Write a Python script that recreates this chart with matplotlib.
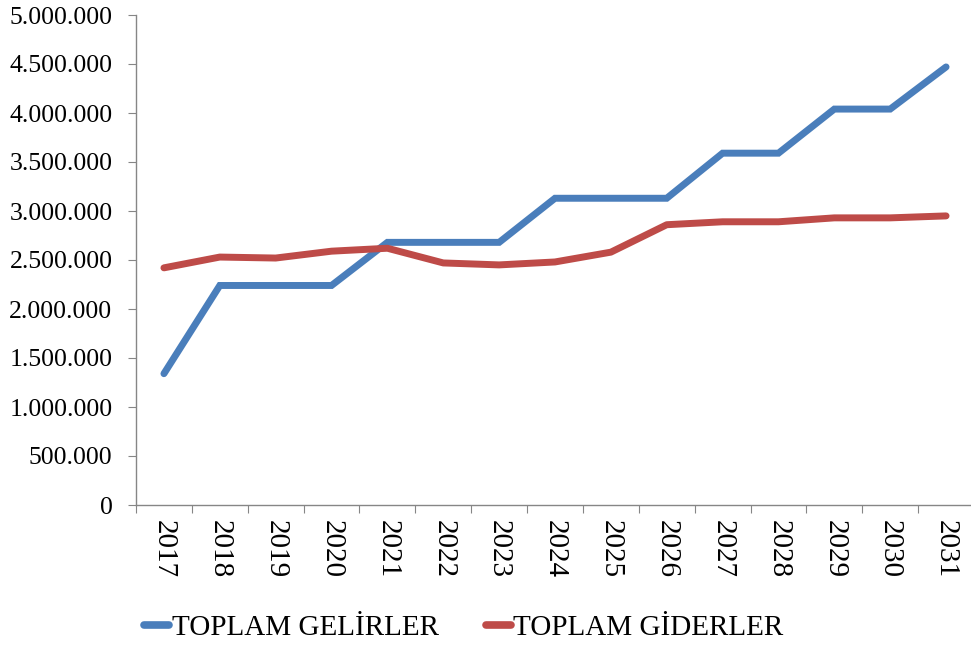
import matplotlib.pyplot as plt
import numpy as np

# Yıllar ve toplam gelir / gider değerleri
years = ['2017', '2018', '2019', '2020', '2021', '2022', '2023', '2024',
         '2025', '2026', '2027', '2028', '2029', '2030', '2031']
gelirler = [1340000, 2240000, 2240000, 2240000, 2680000, 2680000, 2680000, 3130000,
            3130000, 3130000, 3590000, 3590000, 4040000, 4040000, 4470000]
giderler = [2420000, 2530000, 2520000, 2590000, 2620000, 2470000, 2450000, 2480000,
            2580000, 2860000, 2890000, 2890000, 2930000, 2930000, 2950000]

plt.rcParams['font.family'] = ['Liberation Serif', 'DejaVu Serif']

fig = plt.figure(figsize=(9.71, 6.45), dpi=100)
ax = fig.add_axes([136 / 971, 140 / 645, 838 / 971, 490 / 645])

x = np.arange(len(years))
ax.plot(x, gelirler, color='#4A7EBB', lw=5, solid_capstyle='round',
        solid_joinstyle='miter', label='TOPLAM GELİRLER')
ax.plot(x, giderler, color='#BE4B48', lw=5, solid_capstyle='round',
        label='TOPLAM GİDERLER')

ax.set_xlim(-0.5, len(years) - 0.5)
ax.set_ylim(0, 5000000)

# y ekseni: noktalı binlik ayraç
yt = np.arange(0, 5000001, 500000)
ax.set_yticks(yt)
ax.set_yticklabels([f'{v:,}'.replace(',', '.') for v in yt])

# x ekseni: çentikler kategori sınırlarında, etiketler ortada
ax.set_xticks(np.arange(-0.5, len(years), 1.0))
ax.set_xticklabels([])
ax.set_xticks(x, minor=True)
ax.set_xticklabels(years, minor=True, rotation=-90)

ax.tick_params(axis='y', which='major', length=6, color='#868686',
               labelsize=18.5, pad=11)
ax.tick_params(axis='x', which='major', length=6, color='#868686')
ax.tick_params(axis='x', which='minor', length=0, labelsize=21, pad=11)

for s in ['top', 'right']:
    ax.spines[s].set_visible(False)
for s in ['left', 'bottom']:
    ax.spines[s].set_color('#868686')
    ax.spines[s].set_linewidth(1)

leg = fig.legend(loc='center', bbox_to_anchor=(464 / 971, 1 - 628 / 645), ncol=2,
                 frameon=False, fontsize=21, handlelength=0.85, handletextpad=0.1,
                 columnspacing=1.6)
for h in leg.get_lines():
    h.set_linewidth(5.5)

fig.savefig('out.png', dpi=100)
